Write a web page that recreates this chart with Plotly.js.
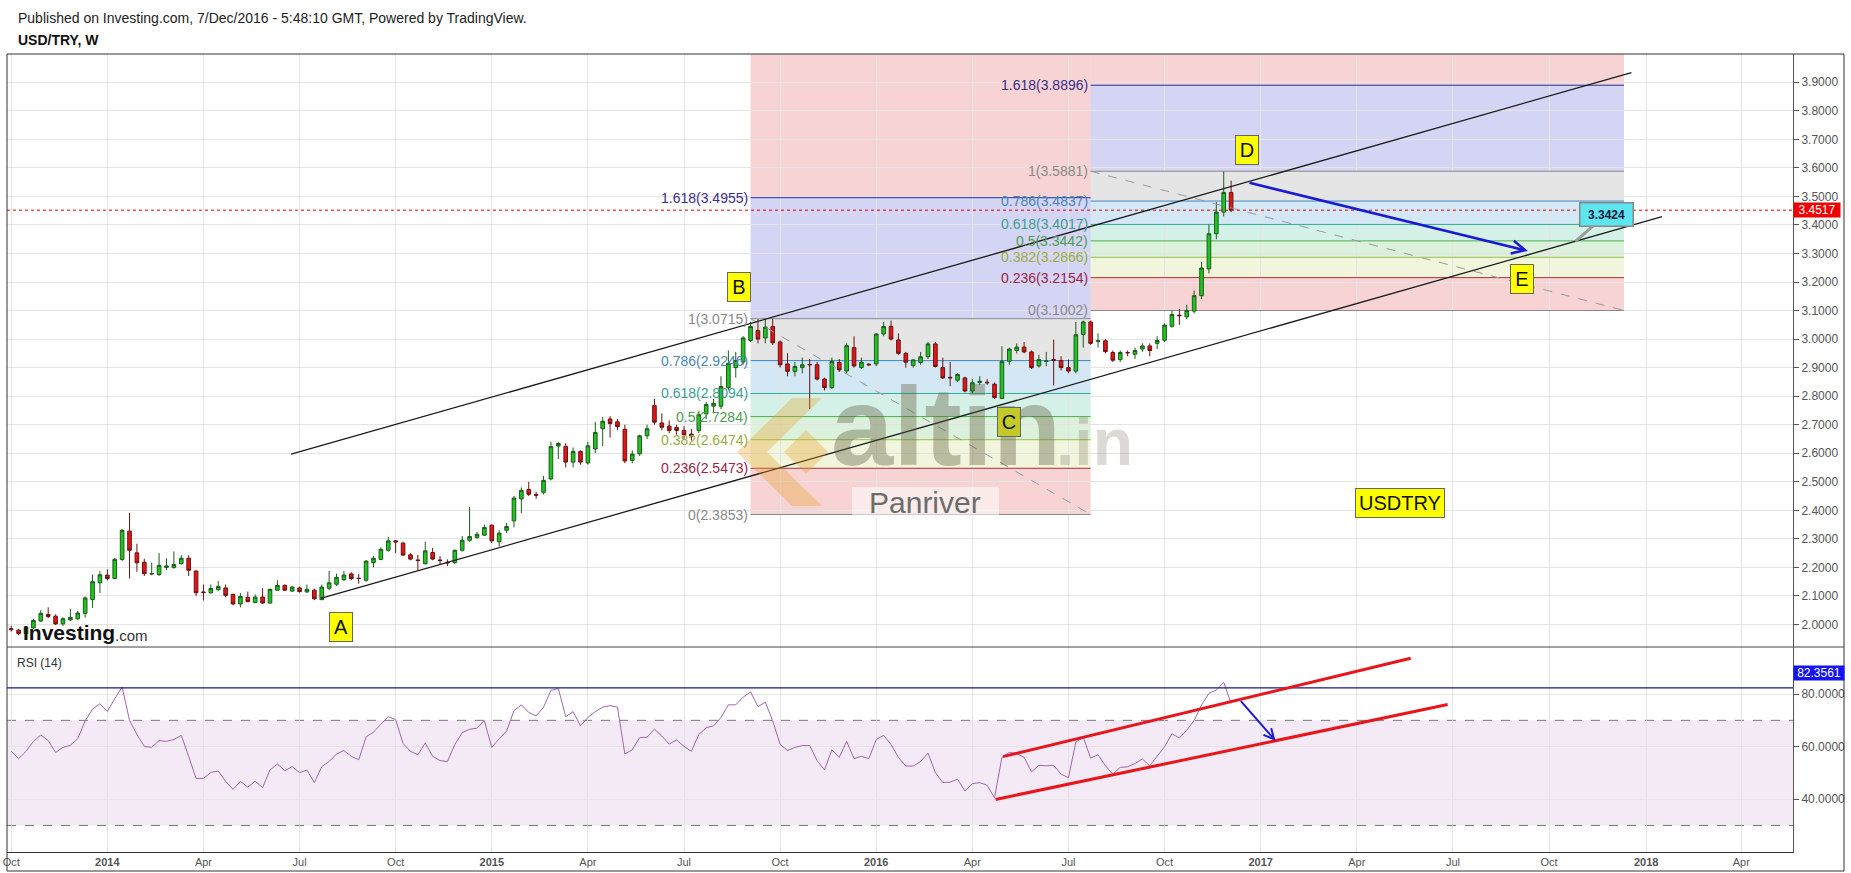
<!DOCTYPE html>
<html><head><meta charset="utf-8">
<script src="https://cdn.plot.ly/plotly-3.0.1.min.js"></script>
<style>html,body{margin:0;padding:0;background:#fff;overflow:hidden;} #chart{width:1851px;height:873px;}</style>
</head><body><div id="chart"></div>
<script>
// ---------- DATA ----------
const weeks = ("2013-10-06 2013-10-13 2013-10-20 2013-10-27 2013-11-03 2013-11-10 2013-11-17 2013-11-24 2013-12-01 2013-12-08 2013-12-15 2013-12-22 2013-12-29 " +
"2014-01-05 2014-01-12 2014-01-19 2014-01-26 2014-02-02 2014-02-09 2014-02-16 2014-02-23 2014-03-02 2014-03-09 2014-03-16 2014-03-23 2014-03-30 2014-04-06 2014-04-13 2014-04-20 2014-04-27 2014-05-04 2014-05-11 2014-05-18 2014-05-25 2014-06-01 2014-06-08 2014-06-15 2014-06-22 2014-06-29 2014-07-06 2014-07-13 2014-07-20 2014-07-27 2014-08-03 2014-08-10 2014-08-17 2014-08-24 2014-08-31 2014-09-07 2014-09-14 2014-09-21 2014-09-28 2014-10-05 2014-10-12 2014-10-19 2014-10-26 2014-11-02 2014-11-09 2014-11-16 2014-11-23 2014-11-30 2014-12-07 2014-12-14 2014-12-21 2014-12-28 " +
"2015-01-04 2015-01-11 2015-01-18 2015-01-25 2015-02-01 2015-02-08 2015-02-15 2015-02-22 2015-03-01 2015-03-08 2015-03-15 2015-03-22 2015-03-29 2015-04-05 2015-04-12 2015-04-19 2015-04-26 2015-05-03 2015-05-10 2015-05-17 2015-05-24 2015-05-31 2015-06-07 2015-06-14 2015-06-21 2015-06-28 2015-07-05 2015-07-12 2015-07-19 2015-07-26 2015-08-02 2015-08-09 2015-08-16 2015-08-23 2015-08-30 2015-09-06 2015-09-13 2015-09-20 2015-09-27 2015-10-04 2015-10-11 2015-10-18 2015-10-25 2015-11-01 2015-11-08 2015-11-15 2015-11-22 2015-11-29 2015-12-06 2015-12-13 2015-12-20 2015-12-27 " +
"2016-01-03 2016-01-10 2016-01-17 2016-01-24 2016-01-31 2016-02-07 2016-02-14 2016-02-21 2016-02-28 2016-03-06 2016-03-13 2016-03-20 2016-03-27 2016-04-03 2016-04-10 2016-04-17 2016-04-24 2016-05-01 2016-05-08 2016-05-15 2016-05-22 2016-05-29 2016-06-05 2016-06-12 2016-06-19 2016-06-26 2016-07-03 2016-07-10 2016-07-17 2016-07-24 2016-07-31 2016-08-07 2016-08-14 2016-08-21 2016-08-28 2016-09-04 2016-09-11 2016-09-18 2016-09-25 2016-10-02 2016-10-09 2016-10-16 2016-10-23 2016-10-30 2016-11-06 2016-11-13 2016-11-20 2016-11-27 2016-12-04").split(" ");

const open = [1.985,1.980,1.968,1.988,2.012,2.035,2.029,2.002,2.016,2.020,2.039,2.087,2.146,
2.173,2.161,2.228,2.327,2.251,2.218,2.177,2.175,2.200,2.200,2.213,2.232,2.187,2.114,2.111,2.122,2.128,2.105,2.072,2.095,2.077,2.096,2.075,2.120,2.137,2.117,2.128,2.114,2.120,2.087,2.127,2.141,2.157,2.177,2.162,2.155,2.217,2.228,2.260,2.293,2.285,2.244,2.226,2.213,2.252,2.226,2.218,2.217,2.260,2.295,2.305,2.313,
2.348,2.290,2.330,2.363,2.440,2.473,2.455,2.463,2.510,2.625,2.624,2.569,2.606,2.566,2.615,2.686,2.720,2.710,2.684,2.575,2.598,2.661,2.767,2.706,2.695,2.690,2.680,2.667,2.680,2.738,2.765,2.765,2.830,2.900,2.920,2.995,3.030,3.004,3.044,2.990,2.913,2.887,2.900,2.911,2.910,2.860,2.830,2.918,2.888,2.970,2.900,2.912,
2.913,3.018,3.044,2.997,2.950,2.907,2.918,2.938,2.983,2.900,2.866,2.856,2.864,2.818,2.848,2.849,2.842,2.792,2.922,2.960,2.972,2.955,2.906,2.922,2.928,2.925,2.900,2.888,3.016,3.060,2.992,2.994,2.953,2.928,2.953,2.947,2.965,2.976,2.985,2.996,3.045,3.084,3.078,3.098,3.152,3.246,3.369,3.445,3.514];
const high = [1.995,1.985,1.995,2.020,2.050,2.060,2.035,2.025,2.055,2.048,2.098,2.175,2.187,
2.193,2.233,2.335,2.390,2.283,2.230,2.217,2.250,2.232,2.256,2.243,2.243,2.190,2.140,2.140,2.152,2.140,2.108,2.110,2.115,2.105,2.127,2.126,2.155,2.140,2.136,2.133,2.140,2.125,2.140,2.188,2.178,2.188,2.183,2.177,2.225,2.240,2.270,2.307,2.295,2.290,2.250,2.244,2.290,2.268,2.240,2.228,2.262,2.310,2.412,2.325,2.350,
2.350,2.330,2.355,2.450,2.480,2.500,2.465,2.520,2.640,2.640,2.635,2.620,2.610,2.640,2.710,2.727,2.730,2.720,2.700,2.610,2.665,2.700,2.790,2.740,2.715,2.700,2.695,2.685,2.745,2.780,2.790,2.870,2.960,2.955,3.010,3.060,3.070,3.070,3.070,2.995,2.950,2.920,2.935,2.930,2.920,2.865,2.935,2.930,2.985,3.010,2.935,2.915,
3.020,3.060,3.065,3.020,2.955,2.930,2.955,2.990,2.990,2.935,2.920,2.880,2.868,2.860,2.870,2.860,2.848,2.975,2.970,2.985,2.990,2.960,2.945,2.955,2.998,2.940,2.928,3.060,3.065,3.065,3.020,3.000,2.960,2.960,2.960,2.970,2.985,2.985,3.010,3.055,3.100,3.105,3.120,3.170,3.270,3.400,3.480,3.587,3.555];
const low = [1.975,1.962,1.965,1.985,2.008,2.022,1.998,1.995,2.012,2.015,2.024,2.058,2.110,
2.154,2.158,2.222,2.161,2.185,2.170,2.172,2.170,2.190,2.195,2.210,2.170,2.100,2.084,2.108,2.118,2.095,2.067,2.060,2.078,2.075,2.073,2.073,2.118,2.118,2.114,2.112,2.110,2.085,2.085,2.120,2.135,2.152,2.155,2.143,2.150,2.200,2.225,2.255,2.250,2.240,2.225,2.190,2.210,2.225,2.210,2.205,2.212,2.255,2.290,2.300,2.310,
2.285,2.273,2.320,2.340,2.390,2.450,2.440,2.455,2.505,2.580,2.550,2.550,2.560,2.560,2.600,2.625,2.655,2.680,2.565,2.565,2.590,2.650,2.700,2.680,2.670,2.665,2.650,2.645,2.670,2.720,2.740,2.755,2.820,2.865,2.910,2.990,2.985,2.985,2.980,2.900,2.870,2.870,2.880,2.755,2.855,2.820,2.825,2.885,2.880,2.900,2.895,2.905,
2.905,3.010,2.995,2.945,2.900,2.900,2.910,2.930,2.900,2.860,2.835,2.850,2.814,2.810,2.840,2.840,2.790,2.790,2.910,2.950,2.950,2.895,2.900,2.905,2.838,2.890,2.880,2.880,2.970,2.980,2.970,2.950,2.920,2.920,2.940,2.930,2.955,2.940,2.965,2.990,3.040,3.050,3.070,3.090,3.140,3.230,3.350,3.430,3.445];
const close = [1.982,1.968,1.990,2.014,2.039,2.028,2.002,2.020,2.025,2.040,2.093,2.150,2.174,
2.161,2.228,2.330,2.260,2.216,2.178,2.178,2.207,2.205,2.210,2.232,2.190,2.111,2.112,2.126,2.133,2.102,2.072,2.098,2.080,2.096,2.075,2.123,2.137,2.120,2.131,2.115,2.123,2.090,2.131,2.146,2.165,2.173,2.161,2.161,2.222,2.232,2.263,2.293,2.289,2.243,2.229,2.224,2.258,2.229,2.224,2.216,2.260,2.295,2.308,2.316,2.340,
2.293,2.320,2.343,2.443,2.470,2.456,2.453,2.505,2.623,2.634,2.569,2.606,2.569,2.626,2.673,2.712,2.704,2.693,2.573,2.597,2.661,2.686,2.709,2.691,2.680,2.680,2.665,2.660,2.735,2.771,2.775,2.834,2.915,2.925,3.004,3.044,3.000,3.042,2.987,2.910,2.887,2.904,2.910,2.910,2.860,2.830,2.922,2.892,2.977,2.906,2.919,2.910,
3.018,3.044,3.000,2.950,2.919,2.927,2.938,2.983,2.904,2.864,2.864,2.876,2.818,2.847,2.852,2.847,2.795,2.922,2.965,2.972,2.955,2.900,2.928,2.923,2.926,2.900,2.888,3.015,3.060,2.985,2.994,2.956,2.926,2.953,2.952,2.960,2.976,2.960,2.995,3.049,3.086,3.082,3.100,3.152,3.249,3.369,3.445,3.514,3.4517];

const rsi = [58.2,55.4,58.2,62,64.4,62.3,57.8,59.7,60.5,63,
69.8,74.3,76.3,73.4,78.2,82.7,70,64.6,60.1,59.7,
62.3,62,62.7,64.3,56.3,47.9,47.9,50.2,50.7,46.8,
43.7,46.8,44.6,46.8,44.4,51.1,53.4,50.8,52.4,50.1,
51.1,46.3,52.4,54.3,57.2,58.5,56.3,55,63.7,65.5,
68.5,71.4,70.3,61.2,58.2,56.9,61.4,56.3,54.7,54.3,
60.8,65.3,66.6,67,69.8,59.7,63,65.9,73.7,75.9,
73,71.7,75,81.4,82.1,71.4,73.3,67.9,71.1,73.3,
75,75.6,75,57.2,58.8,63.4,63.6,66.6,64,61,
62.5,60.1,58.2,64.6,67.2,67.9,71.1,75.9,75.9,78.8,
80.8,75.2,76.9,69.8,60.8,58.5,59.7,60.4,60.4,54.7,
51.1,58.8,55.9,62,55.4,56.3,55.4,62.7,64.3,60.8,
55.9,52.6,52.6,54.3,57.5,50.1,46.3,46.5,47.6,43.1,
45.9,46.3,45.3,40.5,55.9,57.8,57.4,55.9,50.4,52.9,
52.7,52.9,49.5,48.2,61.7,63.6,55.6,56.9,52.7,49.5,
52.1,52.3,53.6,55.3,52.7,56.5,60,64.9,63.3,66.2,
70,75.8,80.3,81.5,84.5,76.4];

const tickDates = ['2013-10-06','2014-01-05','2014-04-06','2014-07-06','2014-10-05','2015-01-04','2015-04-05','2015-07-05','2015-10-04','2016-01-03','2016-04-03','2016-07-03','2016-10-02','2017-01-01','2017-04-02','2017-07-02','2017-10-01','2018-01-01','2018-04-01'];
const tickLabels = ['Oct','2014','Apr','Jul','Oct','2015','Apr','Jul','Oct','2016','Apr','Jul','Oct','2017','Apr','Jul','Oct','2018','Apr'];
const rsiTicks = [40, 60, 80];

// Fibonacci retracements (levels and prices as labelled)
const fibLevels = [0, 0.236, 0.382, 0.5, 0.618, 0.786, 1, 1.618];
const fib1Dates = ['2015-09-06', '2016-07-24'];
const fib1Prices = [2.3853, 2.5473, 2.6474, 2.7284, 2.8094, 2.9246, 3.0715, 3.4955];
const fib2Dates = ['2016-07-24', '2017-12-11'];
const fib2Prices = [3.1002, 3.2154, 3.2866, 3.3442, 3.4017, 3.4837, 3.5881, 3.8896];

// channel lines
const chanUpperX = ['2014-06-28', '2017-12-18'], chanUpperY = [2.5965, 3.934];
const chanLowerX = ['2014-07-26', '2018-01-16'], chanLowerY = [2.091, 3.429];
// forecast arrow on price
const arrowX = ['2016-12-20', '2017-09-11'], arrowY = [3.549, 3.309];
// RSI channel + arrow
const rsiUpperX = ['2016-05-02', '2017-05-23'], rsiUpperY = [56.2, 93.6];
const rsiLowerX = ['2016-04-25', '2017-06-27'], rsiLowerY = [39.9, 76.0];
const rsiArrowX = ['2016-12-12', '2017-01-15'], rsiArrowY = [77.9, 62.2];
const rsiLevel = 82.3561;
const lastPrice = 3.4517;
const target = {x: '2017-10-26', y: 3.3424};

// wave labels
const waveLabels = ['A', 'B', 'C', 'D', 'E'];
const waveX = ['2014-08-14', '2015-08-26', '2016-05-08', '2016-12-19', '2017-09-05'];
const waveY = [1.992, 3.183, 2.708, 3.663, 3.212];
const tagText = 'USDTRY', tagX = '2017-05-13', tagY = 2.427;

// ---------- GEOMETRY ----------
const W = 1851, H = 873, ML = 7, MR = 58, MT = 54, MB = 21;
const PW = W - ML - MR, PH = H - MT - MB;
const px = x => (x - ML) / PW;
const py = y => (H - MB - y) / PH;
const priceBottom = py(647);
const FONT = 'Liberation Sans, Arial, sans-serif';

// ---------- TRACES ----------
const traces = [];
traces.push({
  type: 'candlestick', x: weeks, open: open, high: high, low: low, close: close,
  xaxis: 'x', yaxis: 'y',
  increasing: {line: {color: '#1d5c1d', width: 1}, fillcolor: '#1fc41f'},
  decreasing: {line: {color: '#6a1212', width: 1}, fillcolor: '#e01616'},
  whiskerwidth: 0, hoverinfo: 'skip', showlegend: false
});
traces.push({
  type: 'scatter', mode: 'lines', x: weeks, y: rsi, xaxis: 'x', yaxis: 'y2',
  line: {color: '#a066ae', width: 1}, hoverinfo: 'skip', showlegend: false
});

// ---------- SHAPES ----------
const shapes = [];
const fibLineColors = ['#8a8a8a', '#b3312f', '#98c04a', '#4caf50', '#2fae96', '#3f87c4', '#8a8a8a', '#2e2e9a'];
const fibTextColors = ['#8a8a8a', '#9a2448', '#9aac40', '#4d9d52', '#3a9f90', '#4a86b2', '#8a8a8a', '#3b2d8c'];
const fibFills = ['rgba(230,110,110,0.30)', 'rgba(190,210,90,0.22)', 'rgba(110,200,110,0.25)', 'rgba(80,200,160,0.25)',
                  'rgba(100,170,220,0.28)', 'rgba(160,160,160,0.28)', 'rgba(100,100,220,0.28)', 'rgba(230,110,110,0.30)'];
const annotations = [];

function addFib(dates, prices) {
  const p0 = prices[0], p1 = prices[6];
  const top = p0 + 2.618 * (p1 - p0);
  const bounds = prices.concat([top]);
  for (let k = 0; k < bounds.length - 1; k++) {
    shapes.push({type: 'rect', xref: 'x', yref: 'y', x0: dates[0], x1: dates[1], y0: bounds[k], y1: bounds[k + 1],
      fillcolor: fibFills[k], line: {width: 0}, layer: 'below'});
  }
  prices.forEach((p, k) => {
    shapes.push({type: 'line', xref: 'x', yref: 'y', x0: dates[0], x1: dates[1], y0: p, y1: p,
      line: {color: fibLineColors[k], width: 1}, layer: 'between'});
    annotations.push({xref: 'x', yref: 'y', x: dates[0], y: p, xanchor: 'right', yanchor: 'middle',
      text: String(fibLevels[k]) + '(' + p.toFixed(4) + ')', showarrow: false, xshift: -1,
      font: {family: FONT, size: 14, color: fibTextColors[k]}});
  });
  shapes.push({type: 'line', xref: 'x', yref: 'y', x0: dates[0], x1: dates[1], y0: p1, y1: p0,
    line: {color: '#9a9a9a', width: 1, dash: 'dash'}});
}
addFib(fib1Dates, fib1Prices);
addFib(fib2Dates, fib2Prices);

// RSI band & levels
shapes.push({type: 'rect', xref: 'paper', yref: 'y2', x0: 0, x1: 1, y0: 30, y1: 70,
  fillcolor: 'rgba(150,60,165,0.11)', line: {width: 0}, layer: 'below'});
[30, 70].forEach(v => shapes.push({type: 'line', xref: 'paper', yref: 'y2', x0: 0, x1: 1, y0: v, y1: v,
  line: {color: '#777', width: 1, dash: 'dash'}, layer: 'between'}));
shapes.push({type: 'line', xref: 'paper', yref: 'y2', x0: 0, x1: 1, y0: rsiLevel, y1: rsiLevel,
  line: {color: '#16168c', width: 1.2}});

// last price line
shapes.push({type: 'line', xref: 'paper', yref: 'y', x0: 0, x1: 1, y0: lastPrice, y1: lastPrice,
  line: {color: '#e00000', width: 1, dash: 'dot'}});

// channel lines
shapes.push({type: 'line', xref: 'x', yref: 'y', x0: chanUpperX[0], x1: chanUpperX[1], y0: chanUpperY[0], y1: chanUpperY[1],
  line: {color: '#1a1a1a', width: 1.3}});
shapes.push({type: 'line', xref: 'x', yref: 'y', x0: chanLowerX[0], x1: chanLowerX[1], y0: chanLowerY[0], y1: chanLowerY[1],
  line: {color: '#1a1a1a', width: 1.3}});
// RSI red channel
shapes.push({type: 'line', xref: 'x', yref: 'y2', x0: rsiUpperX[0], x1: rsiUpperX[1], y0: rsiUpperY[0], y1: rsiUpperY[1],
  line: {color: '#e8151b', width: 3}});
shapes.push({type: 'line', xref: 'x', yref: 'y2', x0: rsiLowerX[0], x1: rsiLowerX[1], y0: rsiLowerY[0], y1: rsiLowerY[1],
  line: {color: '#e8151b', width: 3}});

// frame
shapes.push({type: 'rect', xref: 'paper', yref: 'paper', x0: px(7), x1: px(1844), y0: py(871), y1: py(54),
  line: {color: '#333', width: 1}, fillcolor: 'rgba(0,0,0,0)'});
shapes.push({type: 'line', xref: 'paper', yref: 'paper', x0: px(7), x1: px(1844), y0: priceBottom, y1: priceBottom,
  line: {color: '#444', width: 1}});

// watermark logo (chevron)
const logoPts = [[737, 452], [792, 398], [822, 398], [767, 452], [822, 506], [792, 506]];
const diaPts = [[784, 452], [806, 430], [828, 452], [806, 474]];
const toPath = pts => 'M' + pts.map(p => px(p[0]).toFixed(5) + ',' + py(p[1]).toFixed(5)).join('L') + 'Z';
shapes.push({type: 'path', xref: 'paper', yref: 'paper', path: toPath(logoPts), fillcolor: 'rgba(230,160,40,0.33)', line: {width: 0}});
shapes.push({type: 'path', xref: 'paper', yref: 'paper', path: toPath(diaPts), fillcolor: 'rgba(230,160,40,0.33)', line: {width: 0}});
// Panriver box
shapes.push({type: 'rect', xref: 'paper', yref: 'paper', x0: px(852), x1: px(999), y0: py(519), y1: py(487),
  fillcolor: 'rgba(255,255,255,0.55)', line: {width: 0}});

// ---------- ANNOTATIONS ----------
annotations.push({xref: 'paper', yref: 'paper', x: px(16), y: py(18), xanchor: 'left', yanchor: 'middle', showarrow: false,
  text: 'Published on Investing.com, 7/Dec/2016 - 5:48:10 GMT, Powered by TradingView.', font: {family: FONT, size: 14, color: '#222'}});
annotations.push({xref: 'paper', yref: 'paper', x: px(16), y: py(40), xanchor: 'left', yanchor: 'middle', showarrow: false,
  text: '<b>USD/TRY, W</b>', font: {family: FONT, size: 14, color: '#111'}});
annotations.push({xref: 'paper', yref: 'paper', x: px(15), y: py(663), xanchor: 'left', yanchor: 'middle', showarrow: false,
  text: 'RSI (14)', font: {family: FONT, size: 12, color: '#333'}});
annotations.push({xref: 'paper', yref: 'paper', x: px(21), y: py(632), xanchor: 'left', yanchor: 'middle', showarrow: false,
  text: '<b>Investing</b>', font: {family: FONT, size: 21, color: '#111'}});
annotations.push({xref: 'paper', yref: 'paper', x: px(113), y: py(635), xanchor: 'left', yanchor: 'middle', showarrow: false,
  text: '.com', font: {family: FONT, size: 15, color: '#333'}});
annotations.push({xref: 'paper', yref: 'paper', x: px(946), y: py(426), xanchor: 'center', yanchor: 'middle', showarrow: false,
  text: '<b>altin</b>', font: {family: FONT, size: 112, color: 'rgba(95,95,60,0.38)'}});
annotations.push({xref: 'paper', yref: 'paper', x: px(1094), y: py(442), xanchor: 'center', yanchor: 'middle', showarrow: false,
  text: '<b>.in</b>', font: {family: FONT, size: 66, color: 'rgba(120,105,85,0.25)'}});
annotations.push({xref: 'paper', yref: 'paper', x: px(925), y: py(503), xanchor: 'center', yanchor: 'middle', showarrow: false,
  text: 'Panriver', font: {family: FONT, size: 30, color: '#6c6c6c'}});

// wave labels
waveLabels.forEach((t, k) => annotations.push({xref: 'x', yref: 'y', x: waveX[k], y: waveY[k], showarrow: false,
  text: t, width: 22, height: 28, bgcolor: t === 'C' ? '#c3c92a' : '#ffff00', bordercolor: '#666', borderwidth: 1, borderpad: 0,
  font: {family: FONT, size: 20, color: '#111'}}));
annotations.push({xref: 'x', yref: 'y', x: tagX, y: tagY, showarrow: false, text: tagText, width: 88, height: 28,
  bgcolor: '#ffff00', bordercolor: '#666', borderwidth: 1, borderpad: 0, font: {family: FONT, size: 20, color: '#111'}});

// arrows
annotations.push({xref: 'x', yref: 'y', axref: 'x', ayref: 'y', x: arrowX[1], y: arrowY[1], ax: arrowX[0], ay: arrowY[0],
  text: '', showarrow: true, arrowhead: 5, arrowsize: 1, arrowwidth: 2.6, arrowcolor: '#1a1ad6'});
annotations.push({xref: 'x', yref: 'y2', axref: 'x', ayref: 'y2', x: rsiArrowX[1], y: rsiArrowY[1], ax: rsiArrowX[0], ay: rsiArrowY[0],
  text: '', showarrow: true, arrowhead: 5, arrowsize: 1, arrowwidth: 2, arrowcolor: '#1a1ad6'});
// target callout
annotations.push({xref: 'x', yref: 'y', x: target.x, y: target.y, ax: 31, ay: -27, showarrow: true, arrowhead: 0,
  arrowwidth: 3, arrowcolor: '#9a9a9a', text: '<b>' + target.y.toFixed(4) + '</b>', width: 50, height: 20,
  bgcolor: '#5ce6ef', bordercolor: '#888', borderwidth: 1.5, borderpad: 1, font: {family: FONT, size: 12, color: '#15153a'}});

// axis value labels
annotations.push({xref: 'paper', yref: 'y', x: 1, y: lastPrice, xanchor: 'left', yanchor: 'middle', showarrow: false,
  text: lastPrice.toFixed(4), width: 46, height: 14, bgcolor: '#ee0000', borderpad: 0, font: {family: FONT, size: 12, color: '#fff'}});
annotations.push({xref: 'paper', yref: 'y2', x: 1, y: rsiLevel, xanchor: 'left', yanchor: 'middle', showarrow: false, yshift: 15,
  text: rsiLevel.toFixed(4), width: 50, height: 14, bgcolor: '#1414f0', borderpad: 0, font: {family: FONT, size: 12, color: '#fff'}});

// ---------- LAYOUT ----------
const grid = '#e4e4e4';
const layout = {
  width: W, height: H, margin: {l: ML, r: MR, t: MT, b: MB, pad: 0},
  paper_bgcolor: '#fff', plot_bgcolor: '#fff', showlegend: false,
  font: {family: FONT, color: '#444'},
  xaxis: {type: 'date', range: ['2013-10-02', '2018-05-20'], anchor: 'y2', domain: [0, 1],
    tickvals: tickDates, ticktext: tickLabels.map(t => /^\d{4}$/.test(t) ? '<b>' + t + '</b>' : t),
    tickfont: {family: FONT, size: 11, color: '#555'}, ticks: '', showgrid: true, gridcolor: grid, gridwidth: 1,
    showline: true, linecolor: '#333', linewidth: 1, zeroline: false, rangeslider: {visible: false}, fixedrange: true},
  yaxis: {domain: [priceBottom, 1], range: [1.921, 3.999], side: 'right', anchor: 'x', dtick: 0.1, tick0: 2,
    tickformat: '.4f', showgrid: true, gridcolor: grid, showline: true, linecolor: '#555', ticks: 'outside',
    ticklen: 5, tickcolor: '#555', tickfont: {family: FONT, size: 12, color: '#555'}, zeroline: false, fixedrange: true},
  yaxis2: {domain: [0, priceBottom], range: [19.9, 97.9], side: 'right', anchor: 'x', tickvals: rsiTicks,
    tickformat: '.4f', showgrid: true, gridcolor: grid, showline: true, linecolor: '#555', ticks: 'outside',
    ticklen: 5, tickcolor: '#555', tickfont: {family: FONT, size: 12, color: '#555'}, zeroline: false, fixedrange: true},
  shapes: shapes, annotations: annotations
};
Plotly.newPlot('chart', traces, layout, {displayModeBar: false, staticPlot: true});
</script></body></html>
